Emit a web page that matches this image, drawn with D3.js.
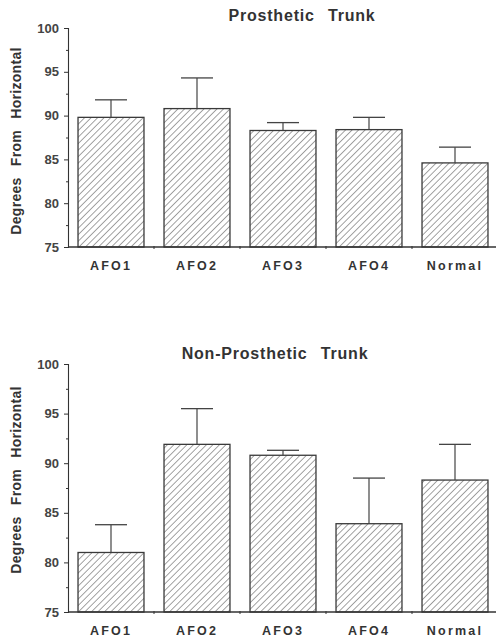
<!DOCTYPE html>
<html>
<head>
<meta charset="utf-8">
<script src="https://cdn.jsdelivr.net/npm/d3@7"></script>
<style>
  html, body { margin: 0; padding: 0; background: #fff; }
  svg { display: block; font-family: "Liberation Sans", Arial, sans-serif; }
</style>
</head>
<body>
<svg id="chart" width="496" height="639"></svg>
<script>
const categories = ["AFO1", "AFO2", "AFO3", "AFO4", "Normal"];
const yTicks = [75, 80, 85, 90, 95, 100];
const yMinorTicks = [77.5, 82.5, 87.5, 92.5, 97.5];

const prostheticMeans = [89.8, 90.8, 88.3, 88.4, 84.6];
const prostheticErrTop = [91.8, 94.3, 89.2, 89.8, 86.4];

const nonProstheticMeans = [81.0, 91.9, 90.8, 83.9, 88.3];
const nonProstheticErrTop = [83.8, 95.5, 91.3, 88.5, 91.9];

const panels = [
  { title: "Prosthetic Trunk", means: prostheticMeans, err: prostheticErrTop,
    top: 28, bottom: 247, left: 68, right: 498, titleX: 302, titleY: 21, labelY: 270, yLabelCenter: 141 },
  { title: "Non-Prosthetic Trunk", means: nonProstheticMeans, err: nonProstheticErrTop,
    top: 364, bottom: 612, left: 68, right: 498, titleX: 275, titleY: 359, labelY: 635, yLabelCenter: 480 }
];

const svg = d3.select("#chart");
const ink = "#333";

const defs = svg.append("defs");
const pat = defs.append("pattern")
  .attr("id", "hatch")
  .attr("patternUnits", "userSpaceOnUse")
  .attr("width", 4.6).attr("height", 4.6)
  .attr("patternTransform", "rotate(45)");
pat.append("rect").attr("width", 4.6).attr("height", 4.6).attr("fill", "#fff");
pat.append("line").attr("x1", 0).attr("y1", 0).attr("x2", 0).attr("y2", 4.6)
  .attr("stroke", "#707070").attr("stroke-width", 1.3);

panels.forEach(p => {
  const g = svg.append("g");
  const x = d3.scaleBand().domain(categories).range([p.left, p.right])
    .paddingInner(0.233).paddingOuter(0.1165);
  const y = d3.scaleLinear().domain([75, 100]).range([p.bottom, p.top]);

  // Y axis
  const yAxis = d3.axisLeft(y).tickValues(yTicks).tickSize(4).tickPadding(5)
    .tickFormat(d3.format("d"));
  const ya = g.append("g").attr("transform", `translate(${p.left},0)`).call(yAxis);
  ya.select(".domain").attr("stroke", ink).attr("stroke-width", 1.1);
  ya.selectAll(".tick line").attr("stroke", ink);
  ya.selectAll(".tick text").attr("fill", "#444").attr("font-size", 13)
    .attr("font-weight", 600);
  const yMinor = d3.axisLeft(y).tickValues(yMinorTicks).tickSize(2).tickFormat("");
  const ym = g.append("g").attr("transform", `translate(${p.left},0)`).call(yMinor);
  ym.select(".domain").remove();
  ym.selectAll(".tick line").attr("stroke", ink);

  // Bars
  g.selectAll("rect.bar").data(categories).enter().append("rect")
    .attr("class", "bar")
    .attr("x", d => x(d))
    .attr("width", x.bandwidth())
    .attr("y", (d, i) => y(p.means[i]))
    .attr("height", (d, i) => y(75) - y(p.means[i]))
    .attr("fill", "url(#hatch)")
    .attr("stroke", "#3a3a3a").attr("stroke-width", 1.3);

  // Error bars
  const cx = d => x(d) + x.bandwidth() / 2;
  g.selectAll("line.err").data(categories).enter().append("line")
    .attr("x1", cx).attr("x2", cx)
    .attr("y1", (d, i) => y(p.means[i]))
    .attr("y2", (d, i) => y(p.err[i]))
    .attr("stroke", "#444").attr("stroke-width", 1.2);
  g.selectAll("line.cap").data(categories).enter().append("line")
    .attr("x1", d => cx(d) - 16).attr("x2", d => cx(d) + 16)
    .attr("y1", (d, i) => y(p.err[i]))
    .attr("y2", (d, i) => y(p.err[i]))
    .attr("stroke", "#444").attr("stroke-width", 1.3);

  // X axis
  const xAxis = d3.axisBottom(x).tickSize(0).tickFormat("");
  const xa = g.append("g").attr("transform", `translate(0,${p.bottom})`).call(xAxis);
  xa.select(".domain").attr("stroke", ink).attr("stroke-width", 1.3)
    .attr("d", `M${p.left},0H${p.right}`);
  const bounds = categories.slice(1).map(d => x(d) - x.step() * x.paddingInner() / 2);
  xa.selectAll("line.bnd").data(bounds).enter().append("line")
    .attr("x1", d => d).attr("x2", d => d).attr("y1", -1).attr("y2", 2)
    .attr("stroke", ink);

  // Category labels
  g.selectAll("text.cat").data(categories).enter().append("text")
    .attr("x", cx).attr("y", p.labelY)
    .attr("text-anchor", "middle")
    .attr("font-size", 12.5).attr("font-weight", "bold")
    .attr("letter-spacing", 2.2)
    .attr("fill", "#333")
    .text(d => d);

  // Title
  g.append("text").attr("x", p.titleX).attr("y", p.titleY)
    .attr("text-anchor", "middle").attr("font-size", 16).attr("font-weight", "bold")
    .attr("letter-spacing", 0.8).attr("word-spacing", 8).attr("fill", "#333").text(p.title);

  // Y label
  g.append("text")
    .attr("transform", `translate(21,${p.yLabelCenter}) rotate(-90)`)
    .attr("text-anchor", "middle").attr("font-size", 14).attr("font-weight", "bold")
    .attr("word-spacing", 7).attr("letter-spacing", 0.3).attr("fill", "#333")
    .text("Degrees From Horizontal");
});
</script>
</body>
</html>
